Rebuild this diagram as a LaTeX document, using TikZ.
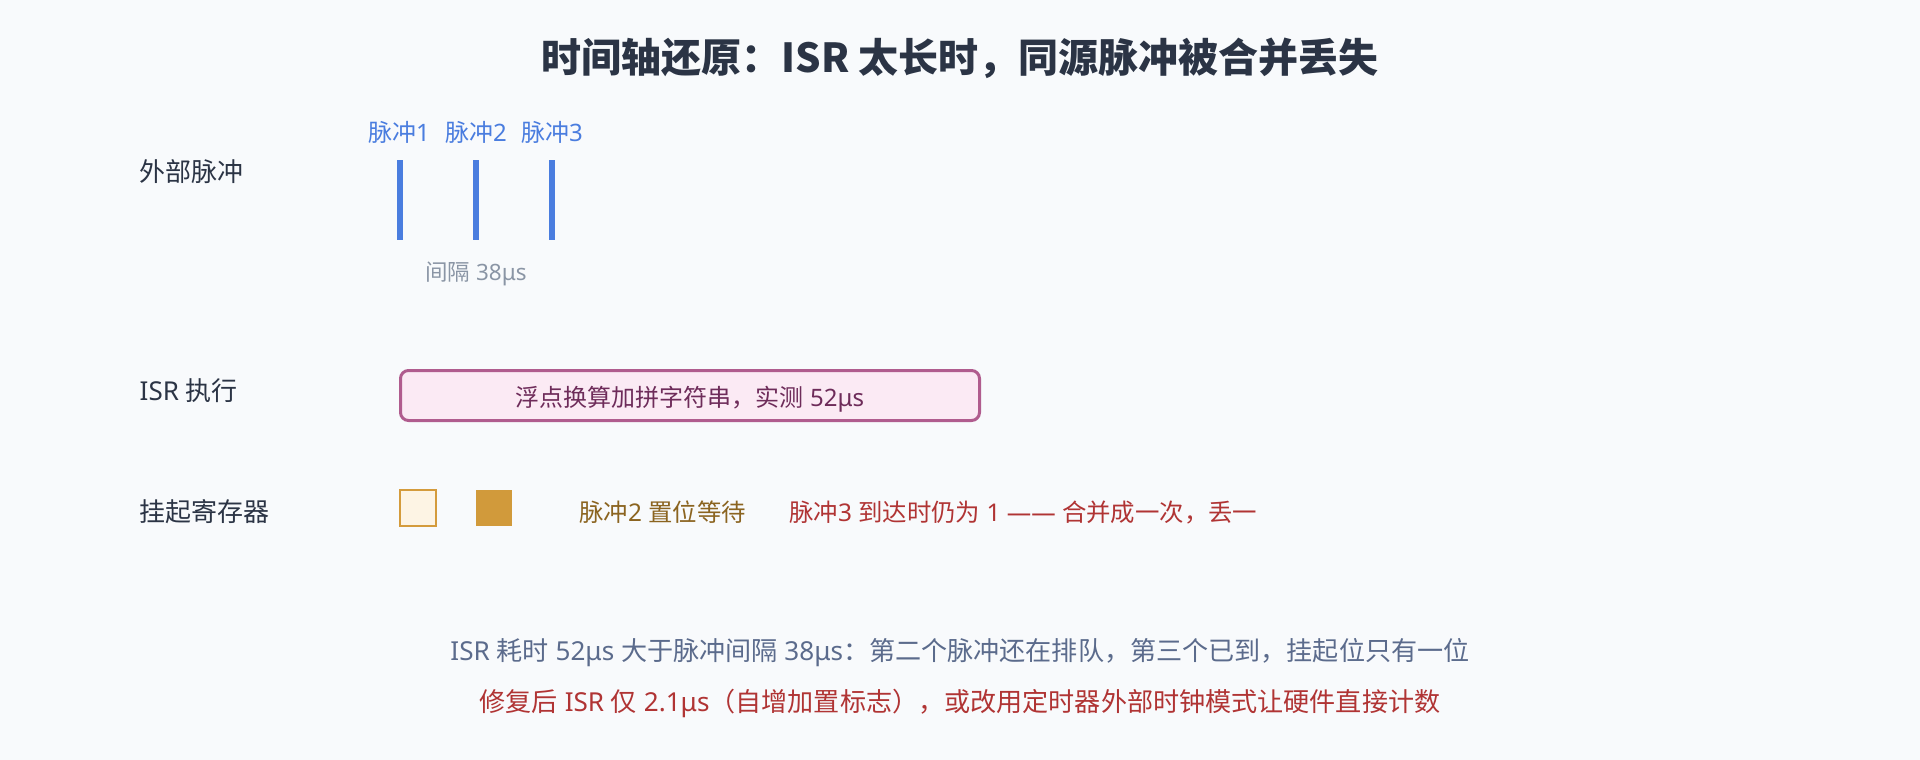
\documentclass[tikz,border=0pt]{standalone}
\usepackage{fontspec}
\setmainfont{Noto Sans}
\newfontfamily\cjk{Noto Sans CJK SC}
\newcommand\zhtxt[1]{{\cjk #1}}
\definecolor{bgcol}{HTML}{F8FAFC}
\definecolor{titlecol}{HTML}{2B3445}
\definecolor{labelcol}{HTML}{2B3445}
\definecolor{pulseblue}{HTML}{4A7DDF}
\definecolor{graycol}{HTML}{8A95A5}
\definecolor{isrborder}{HTML}{B05C8E}
\definecolor{isrfill}{HTML}{FBEAF4}
\definecolor{isrtext}{HTML}{6E2C5A}
\definecolor{regborder}{HTML}{D49B3C}
\definecolor{regfill}{HTML}{FDF4E4}
\definecolor{regsolid}{HTML}{D19A3B}
\definecolor{browncol}{HTML}{8B6420}
\definecolor{redcol}{HTML}{B03434}
\definecolor{notecol}{HTML}{5B6B8C}
\begin{document}
\begin{tikzpicture}[x=1pt,y=-1pt,
  titlestyle/.style={anchor=base, inner sep=0pt, text=titlecol, font=\cjk\fontsize{40}{48}\selectfont\bfseries},
  rowlabel/.style={anchor=base west, inner sep=0pt, text=labelcol, font=\fontsize{26}{30}\selectfont},
  pulselabel/.style={anchor=base, inner sep=0pt, text=pulseblue, font=\fontsize{24}{28}\selectfont},
  pulseline/.style={fill=pulseblue, inner sep=0pt, minimum width=5.3pt, minimum height=80pt},
  smalltext/.style={anchor=base, inner sep=0pt, font=\fontsize{22.5}{26}\selectfont},
  rowtext/.style={anchor=base west, inner sep=0pt, font=\fontsize{24.4}{28}\selectfont},
  isrbox/.style={draw=isrborder, fill=isrfill, line width=3pt, rounded corners=8pt,
    minimum width=579pt, minimum height=50pt, inner sep=0pt,
    text=isrtext, font=\fontsize{24}{28}\selectfont, text height=21pt, text depth=0pt},
  regempty/.style={draw=regborder, fill=regfill, line width=2pt, minimum size=36pt, inner sep=0pt},
  regfull/.style={fill=regsolid, minimum size=36pt, inner sep=0pt},
  notetext/.style={anchor=base, inner sep=0pt, font=\fontsize{26.1}{30}\selectfont}
]
\fill[bgcol] (0,0) rectangle (1920,760);
\useasboundingbox (0,0) rectangle (1920,760);

% title
\node[titlestyle] (title) at (960,73) {时间轴还原：ISR 太长时，同源脉冲被合并丢失};

% row labels
\node[rowlabel] (lblpulse) at (139,181) {\zhtxt{外部脉冲}};
\node[rowlabel] (lblisr) at (139.5,400) {ISR \zhtxt{执行}};
\node[rowlabel] (lblreg) at (139,521) {\zhtxt{挂起寄存器}};

% pulses
\node[pulselabel] (pl1) at (399,141) {\zhtxt{脉冲}1};
\node[pulselabel] (pl2) at (476,141) {\zhtxt{脉冲}2};
\node[pulselabel] (pl3) at (552,141) {\zhtxt{脉冲}3};
\node[pulseline] (p1) at (400,200) {};
\node[pulseline] (p2) at (476,200) {};
\node[pulseline] (p3) at (552,200) {};
\node[smalltext, text=graycol] (gap) at (476,280) {\zhtxt{间隔} 38μs};

% ISR execution
\node[isrbox] (isr) at (690,395.5) {\zhtxt{浮点换算加拼字符串，实测} 52μs};

% pending register
\node[regempty] (r1) at (418,508) {};
\node[regfull] (r2) at (494,508) {};
\node[rowtext, text=browncol] (reg2) at (579,521) {\zhtxt{脉冲}2 \zhtxt{置位等待}};
\node[rowtext, text=redcol] (reg3) at (789,521) {\zhtxt{脉冲}3 \zhtxt{到达时仍为} 1 —— \zhtxt{合并成一次，丢一}};

% notes
\node[notetext, text=notecol] (note1) at (960,660) {ISR \zhtxt{耗时} 52μs \zhtxt{大于脉冲间隔} 38μs\zhtxt{：第二个脉冲还在排队，第三个已到，挂起位只有一位}};
\node[notetext, text=redcol] (note2) at (960,711) {\zhtxt{修复后} ISR \zhtxt{仅} 2.1μs\zhtxt{（自增加置标志），或改用定时器外部时钟模式让硬件直接计数}};
\end{tikzpicture}
\end{document}
